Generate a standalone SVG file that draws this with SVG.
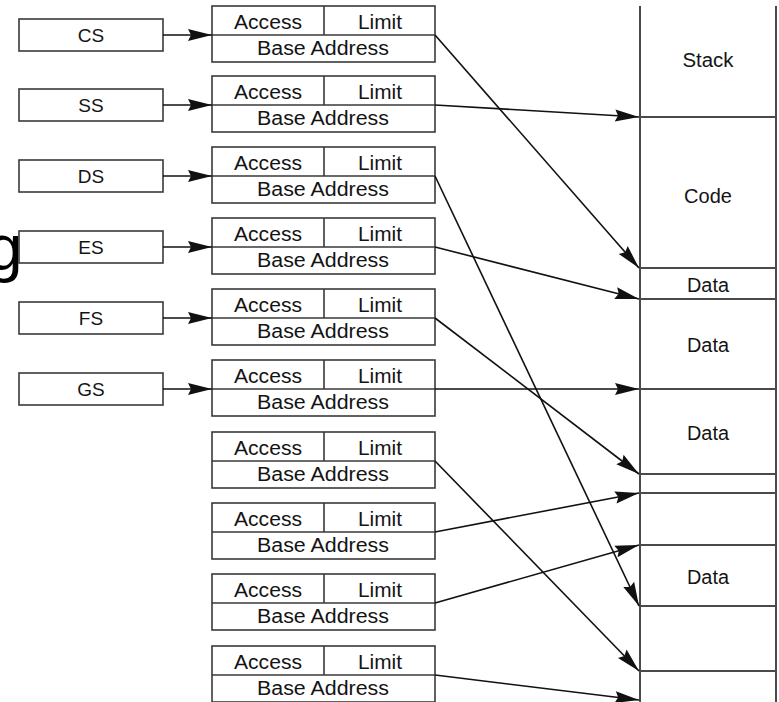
<svg xmlns="http://www.w3.org/2000/svg" width="779" height="702" viewBox="0 0 779 702">
  <style>
    .box { fill: #ffffff; stroke: #3a3a3a; stroke-width: 1.6; }
    .div { stroke: #3a3a3a; stroke-width: 1.6; fill: none; }
    .mem { stroke: #4a4a4a; stroke-width: 2; fill: none; }
    .wire { stroke: #111111; stroke-width: 1.6; fill: none; marker-end: url(#arrow); }
    text { font-family: "Liberation Sans", Arial, sans-serif; fill: #141414; text-anchor: middle; }
    .t { font-size: 20px; }
    .r { font-size: 19px; }
  </style>
  <defs>
    <marker id="arrow" markerUnits="userSpaceOnUse" markerWidth="26" markerHeight="14" refX="24" refY="6" orient="auto" overflow="visible">
      <path d="M0,0 L24,6 L0,12 L3,6 z" fill="#111111"/>
    </marker>
  </defs>

  <!-- partial large glyph at the left edge -->
  <text x="-13" y="270" style="font-size:64px; text-anchor:start; fill:#000000;">g</text>

  <!-- segment registers -->
  <g id="reg-cs"><rect class="box" x="19" y="19" width="144" height="32"/><text class="r" x="91" y="42">CS</text></g>
  <g id="reg-ss"><rect class="box" x="19" y="89" width="144" height="32"/><text class="r" x="91" y="112">SS</text></g>
  <g id="reg-ds"><rect class="box" x="19" y="160" width="144" height="32"/><text class="r" x="91" y="183">DS</text></g>
  <g id="reg-es"><rect class="box" x="19" y="231" width="144" height="32"/><text class="r" x="91" y="254">ES</text></g>
  <g id="reg-fs"><rect class="box" x="19" y="302" width="144" height="32"/><text class="r" x="91" y="325">FS</text></g>
  <g id="reg-gs"><rect class="box" x="19" y="373" width="144" height="32"/><text class="r" x="91" y="396">GS</text></g>

  <!-- segment descriptors -->
  <g id="desc-0" transform="translate(0,6)">
    <rect class="box" x="212" y="0" width="223" height="56"/>
    <path class="div" d="M212,29 H435 M324,0 V29"/>
    <text class="t" x="268" y="23" textLength="68" lengthAdjust="spacingAndGlyphs">Access</text>
    <text class="t" x="380" y="23" textLength="44" lengthAdjust="spacingAndGlyphs">Limit</text>
    <text class="t" x="323" y="49" textLength="132" lengthAdjust="spacingAndGlyphs">Base Address</text>
  </g>
  <g id="desc-1" transform="translate(0,76)">
    <rect class="box" x="212" y="0" width="223" height="56"/>
    <path class="div" d="M212,29 H435 M324,0 V29"/>
    <text class="t" x="268" y="23" textLength="68" lengthAdjust="spacingAndGlyphs">Access</text>
    <text class="t" x="380" y="23" textLength="44" lengthAdjust="spacingAndGlyphs">Limit</text>
    <text class="t" x="323" y="49" textLength="132" lengthAdjust="spacingAndGlyphs">Base Address</text>
  </g>
  <g id="desc-2" transform="translate(0,147)">
    <rect class="box" x="212" y="0" width="223" height="56"/>
    <path class="div" d="M212,29 H435 M324,0 V29"/>
    <text class="t" x="268" y="23" textLength="68" lengthAdjust="spacingAndGlyphs">Access</text>
    <text class="t" x="380" y="23" textLength="44" lengthAdjust="spacingAndGlyphs">Limit</text>
    <text class="t" x="323" y="49" textLength="132" lengthAdjust="spacingAndGlyphs">Base Address</text>
  </g>
  <g id="desc-3" transform="translate(0,218)">
    <rect class="box" x="212" y="0" width="223" height="56"/>
    <path class="div" d="M212,29 H435 M324,0 V29"/>
    <text class="t" x="268" y="23" textLength="68" lengthAdjust="spacingAndGlyphs">Access</text>
    <text class="t" x="380" y="23" textLength="44" lengthAdjust="spacingAndGlyphs">Limit</text>
    <text class="t" x="323" y="49" textLength="132" lengthAdjust="spacingAndGlyphs">Base Address</text>
  </g>
  <g id="desc-4" transform="translate(0,289)">
    <rect class="box" x="212" y="0" width="223" height="56"/>
    <path class="div" d="M212,29 H435 M324,0 V29"/>
    <text class="t" x="268" y="23" textLength="68" lengthAdjust="spacingAndGlyphs">Access</text>
    <text class="t" x="380" y="23" textLength="44" lengthAdjust="spacingAndGlyphs">Limit</text>
    <text class="t" x="323" y="49" textLength="132" lengthAdjust="spacingAndGlyphs">Base Address</text>
  </g>
  <g id="desc-5" transform="translate(0,360)">
    <rect class="box" x="212" y="0" width="223" height="56"/>
    <path class="div" d="M212,29 H435 M324,0 V29"/>
    <text class="t" x="268" y="23" textLength="68" lengthAdjust="spacingAndGlyphs">Access</text>
    <text class="t" x="380" y="23" textLength="44" lengthAdjust="spacingAndGlyphs">Limit</text>
    <text class="t" x="323" y="49" textLength="132" lengthAdjust="spacingAndGlyphs">Base Address</text>
  </g>
  <g id="desc-6" transform="translate(0,432)">
    <rect class="box" x="212" y="0" width="223" height="56"/>
    <path class="div" d="M212,29 H435 M324,0 V29"/>
    <text class="t" x="268" y="23" textLength="68" lengthAdjust="spacingAndGlyphs">Access</text>
    <text class="t" x="380" y="23" textLength="44" lengthAdjust="spacingAndGlyphs">Limit</text>
    <text class="t" x="323" y="49" textLength="132" lengthAdjust="spacingAndGlyphs">Base Address</text>
  </g>
  <g id="desc-7" transform="translate(0,503)">
    <rect class="box" x="212" y="0" width="223" height="56"/>
    <path class="div" d="M212,29 H435 M324,0 V29"/>
    <text class="t" x="268" y="23" textLength="68" lengthAdjust="spacingAndGlyphs">Access</text>
    <text class="t" x="380" y="23" textLength="44" lengthAdjust="spacingAndGlyphs">Limit</text>
    <text class="t" x="323" y="49" textLength="132" lengthAdjust="spacingAndGlyphs">Base Address</text>
  </g>
  <g id="desc-8" transform="translate(0,574)">
    <rect class="box" x="212" y="0" width="223" height="56"/>
    <path class="div" d="M212,29 H435 M324,0 V29"/>
    <text class="t" x="268" y="23" textLength="68" lengthAdjust="spacingAndGlyphs">Access</text>
    <text class="t" x="380" y="23" textLength="44" lengthAdjust="spacingAndGlyphs">Limit</text>
    <text class="t" x="323" y="49" textLength="132" lengthAdjust="spacingAndGlyphs">Base Address</text>
  </g>
  <g id="desc-9" transform="translate(0,646)">
    <rect class="box" x="212" y="0" width="223" height="56"/>
    <path class="div" d="M212,29 H435 M324,0 V29"/>
    <text class="t" x="268" y="23" textLength="68" lengthAdjust="spacingAndGlyphs">Access</text>
    <text class="t" x="380" y="23" textLength="44" lengthAdjust="spacingAndGlyphs">Limit</text>
    <text class="t" x="323" y="49" textLength="132" lengthAdjust="spacingAndGlyphs">Base Address</text>
  </g>

  <!-- linear memory column -->
  <g id="memory">
    <path class="mem" d="M640,6 V702 M776,6 V702"/>
    <path class="mem" d="M640,117 H776 M640,268 H776 M640,299 H776 M640,389 H776 M640,474 H776 M640,493 H776 M640,545 H776 M640,606 H776 M640,671 H776"/>
    <text class="t" x="708" y="67" textLength="51" lengthAdjust="spacingAndGlyphs">Stack</text>
    <text class="t" x="708" y="203">Code</text>
    <text class="t" x="708" y="292" textLength="42" lengthAdjust="spacingAndGlyphs">Data</text>
    <text class="t" x="708" y="352" textLength="42" lengthAdjust="spacingAndGlyphs">Data</text>
    <text class="t" x="708" y="440" textLength="42" lengthAdjust="spacingAndGlyphs">Data</text>
    <text class="t" x="708" y="584" textLength="42" lengthAdjust="spacingAndGlyphs">Data</text>
  </g>

  <!-- connectors -->
  <g id="connectors">
    <line class="wire" x1="163" y1="35" x2="212" y2="35"/>
    <line class="wire" x1="163" y1="105" x2="212" y2="105"/>
    <line class="wire" x1="163" y1="176" x2="212" y2="176"/>
    <line class="wire" x1="163" y1="247" x2="212" y2="247"/>
    <line class="wire" x1="163" y1="318" x2="212" y2="318"/>
    <line class="wire" x1="163" y1="389" x2="212" y2="389"/>

    <line class="wire" x1="435" y1="35" x2="639" y2="268"/>
    <line class="wire" x1="435" y1="105" x2="639" y2="117"/>
    <line class="wire" x1="435" y1="176" x2="639" y2="606"/>
    <line class="wire" x1="435" y1="247" x2="639" y2="299"/>
    <line class="wire" x1="435" y1="318" x2="639" y2="474"/>
    <line class="wire" x1="435" y1="389" x2="639" y2="389"/>
    <line class="wire" x1="435" y1="461" x2="639" y2="671"/>
    <line class="wire" x1="435" y1="532" x2="639" y2="493"/>
    <line class="wire" x1="435" y1="603" x2="639" y2="545"/>
    <line class="wire" x1="435" y1="675" x2="639" y2="700"/>
  </g>
</svg>
